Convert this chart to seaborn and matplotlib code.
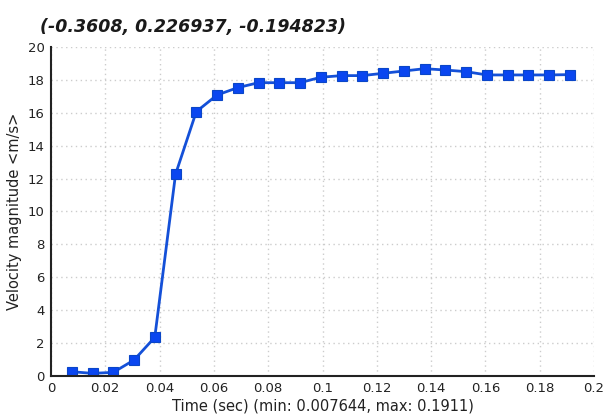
import numpy as np
import pandas as pd
import matplotlib
matplotlib.use("Agg")
import matplotlib.pyplot as plt
import seaborn as sns

# Velocity probe time history
time_sec = [0.007644 * i for i in range(1, 26)]
velocity = [0.26, 0.16, 0.22, 0.97, 2.35, 12.26, 16.07, 17.08, 17.53, 17.83,
            17.83, 17.83, 18.16, 18.26, 18.26, 18.40, 18.54, 18.68, 18.60, 18.50,
            18.30, 18.30, 18.30, 18.30, 18.32]
x_ticks = [0, 0.02, 0.04, 0.06, 0.08, 0.1, 0.12, 0.14, 0.16, 0.18, 0.2]
y_ticks = [0, 2, 4, 6, 8, 10, 12, 14, 16, 18, 20]
title_text = "(-0.3608, 0.226937, -0.194823)"

df = pd.DataFrame({"t": time_sec, "v": velocity})

sns.set_style("white")
plt.rcParams["font.family"] = ["DejaVu Sans"]

fig = plt.figure(figsize=(6.08, 4.18), dpi=100)
ax = fig.add_axes([0.0839, 0.1005, 0.8931, 0.7871])

sns.lineplot(data=df, x="t", y="v", ax=ax, color="#1450d8", linewidth=2.0,
             marker="s", markersize=6.5, markerfacecolor="#0a46f0",
             markeredgecolor="#0a46c8", markeredgewidth=0.8)

ax.set_xlim(0, 0.2)
ax.set_ylim(0, 20)
ax.set_xticks(x_ticks)
ax.set_xticklabels([f"{v:g}" for v in x_ticks])
ax.set_yticks(y_ticks)
ax.set_yticklabels([f"{v:g}" for v in y_ticks])

ax.grid(True, color="#cccccc", linestyle=(0, (1, 2.5)), linewidth=1.0)
ax.set_axisbelow(True)
for side in ("top", "right"):
    ax.spines[side].set_visible(False)
for side in ("left", "bottom"):
    ax.spines[side].set_color("#222222")
    ax.spines[side].set_linewidth(1.5)

ax.tick_params(axis="both", direction="inout", length=7, width=1.2,
               color="#222222", labelsize=9.5, labelcolor="#222222", pad=1)

ax.set_xlabel("Time (sec) (min: 0.007644, max: 0.1911)", fontsize=10.5,
              color="#222222", labelpad=2)
ax.set_ylabel("Velocity magnitude <m/s>", fontsize=10.5, color="#222222",
              labelpad=4)

fig.text(0.066, 0.935, title_text, fontsize=12.5, fontstyle="italic",
         fontweight="bold", color="#1a1a1a", ha="left", va="center")

fig.savefig("out.png", dpi=100, facecolor="white")
